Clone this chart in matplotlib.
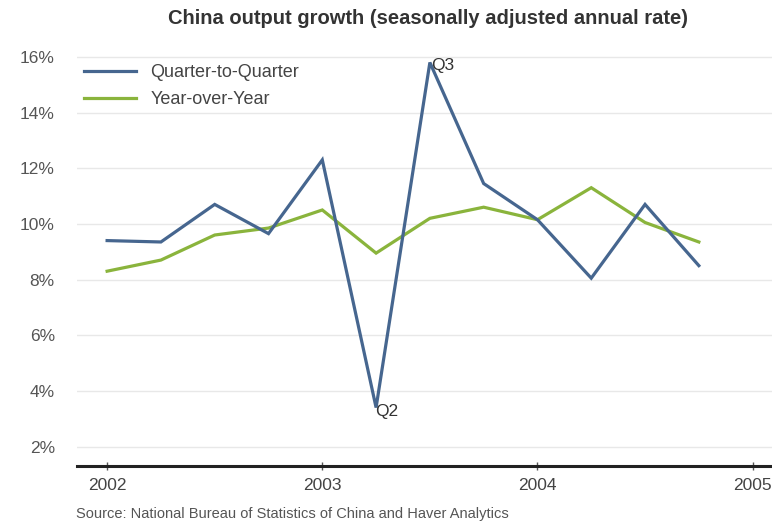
import matplotlib
matplotlib.use("Agg")
import matplotlib.pyplot as plt

plt.rcParams['font.family'] = ['Liberation Sans', 'DejaVu Sans']

# Data: quarterly, 2002Q1 .. 2004Q4 (x as fractional years)
quarters = [2002.00, 2002.25, 2002.50, 2002.75,
            2003.00, 2003.25, 2003.50, 2003.75,
            2004.00, 2004.25, 2004.50, 2004.75]
qoq = [9.4, 9.35, 10.7, 9.65, 12.3, 3.4, 15.8, 11.45, 10.15, 8.05, 10.7, 8.5]
yoy = [8.3, 8.7, 9.6, 9.85, 10.5, 8.95, 10.2, 10.6, 10.15, 11.3, 10.05, 9.35]
yticks = [2, 4, 6, 8, 10, 12, 14, 16]
ytick_labels = ['2%', '4%', '6%', '8%', '10%', '12%', '14%', '16%']
xticks = [2002, 2003, 2004, 2005]
xtick_labels = ['2002', '2003', '2004', '2005']
title = 'China output growth (seasonally adjusted annual rate)'
source = 'Source: National Bureau of Statistics of China and Haver Analytics'

blue = '#46668f'
green = '#8ab43c'

fig = plt.figure(figsize=(7.72, 5.22), dpi=100)
ax = fig.add_axes([77/772, 1 - 466/522, 1 - 77/772, (466 - 43)/522])

ax.plot(quarters, qoq, color=blue, lw=2.3, label='Quarter-to-Quarter', solid_joinstyle='miter', zorder=3)
ax.plot(quarters, yoy, color=green, lw=2.3, label='Year-over-Year', solid_joinstyle='miter', zorder=2)

ax.set_ylim(1.3, 16.5)
ax.set_xlim(2001.86, 2005.09)
ax.set_yticks(yticks)
ax.set_yticklabels(ytick_labels)
ax.set_xticks(xticks)
ax.set_xticklabels(xtick_labels)

ax.grid(axis='y', color='#e8e8e8', lw=1)
ax.set_axisbelow(True)
for s in ['top', 'right', 'left']:
    ax.spines[s].set_visible(False)
ax.spines['bottom'].set_color('#222222')
ax.spines['bottom'].set_linewidth(2.2)

ax.tick_params(axis='y', length=0, pad=16, labelsize=12.5, labelcolor='#555555')
ax.tick_params(axis='x', length=6, width=1, color='#555555', direction='inout',
               pad=6, labelsize=12.5, labelcolor='#444444')

# annotations
ax.annotate('Q3', (quarters[6], qoq[6]), xytext=(1, -2), textcoords='offset points',
            fontsize=12.5, color='#333333', ha='left', va='center')
ax.annotate('Q2', (quarters[5], qoq[5]), xytext=(-1, -3), textcoords='offset points',
            fontsize=12.5, color='#333333', ha='left', va='center')

leg = ax.legend(loc='upper left', bbox_to_anchor=(-0.006, 0.975), frameon=False,
                fontsize=13, handlelength=2.9, handletextpad=0.8,
                labelspacing=0.55, borderaxespad=0.2)
for t in leg.get_texts():
    t.set_color('#444444')

fig.text(428/772, 1 - 18/522, title, ha='center', va='center',
         fontsize=14.5, fontweight='bold', color='#333333')
fig.text(76/772, 1 - 514/522, source, ha='left', va='center', fontsize=10.5, color='#555555')

fig.savefig('out.png', dpi=100)
